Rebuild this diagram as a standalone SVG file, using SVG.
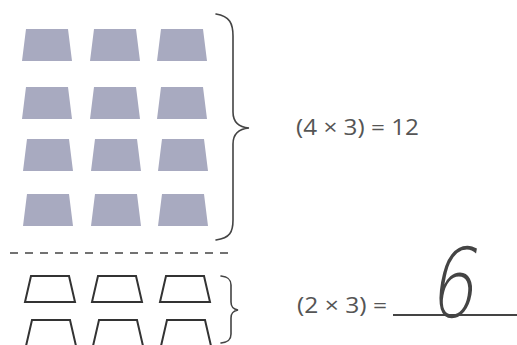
<svg xmlns="http://www.w3.org/2000/svg" width="517" height="345" viewBox="0 0 517 345">
<style>
.f{fill:#a8aac0;stroke:none}
.o{fill:#fff;stroke:#333;stroke-width:2;stroke-linejoin:miter}
.br{fill:none;stroke:#444;stroke-width:1.6;stroke-linecap:round}
.t{font-family:"Open Sans","Noto Sans","Liberation Sans",sans-serif;font-size:21px;fill:#555}
</style>
<rect width="517" height="345" fill="#fff"/>
<defs>
<polygon id="tf" points="4,0 46,0 50,32 0,32"/>
<polygon id="to" points="6,0 44,0 50,26 0,26"/>
</defs>
<g id="filled">
<use href="#tf" class="f" x="22" y="29"/>
<use href="#tf" class="f" x="90" y="29"/>
<use href="#tf" class="f" x="157" y="29"/>
<use href="#tf" class="f" x="22" y="87"/>
<use href="#tf" class="f" x="90" y="87"/>
<use href="#tf" class="f" x="157" y="87"/>
<use href="#tf" class="f" x="23" y="139"/>
<use href="#tf" class="f" x="91" y="139"/>
<use href="#tf" class="f" x="158" y="139"/>
<use href="#tf" class="f" x="23" y="194"/>
<use href="#tf" class="f" x="91" y="194"/>
<use href="#tf" class="f" x="158" y="194"/>
</g>
<g id="outlined">
<use href="#to" class="o" x="25" y="276"/>
<use href="#to" class="o" x="92" y="276"/>
<use href="#to" class="o" x="160" y="276"/>
<use href="#to" class="o" x="26" y="320"/>
<use href="#to" class="o" x="93" y="320"/>
<use href="#to" class="o" x="161" y="320"/>
</g>
<g id="connectors">
<path class="br" d="M216,14 C230,16 233,24 233,36 L233,112 C233,122 238,127 249,128 C238,129 233,134 233,144 L233,220 C233,232 230,238 216,240"/>
<path class="br" d="M221,276 C229,277 231,280 231,285 L231,302 C231,307 233,309 238,310 C233,311 231,313 231,318 L231,334 C231,339 229,342 221,343"/>
<line x1="10" y1="253" x2="234" y2="253" stroke="#444" stroke-width="1.5" stroke-dasharray="8,7"/>
<line x1="393" y1="315" x2="517" y2="315" stroke="#444" stroke-width="2"/>
</g>
<g id="label1"><text class="t" x="296" y="135" textLength="123" lengthAdjust="spacingAndGlyphs">(4 × 3) = 12</text></g>
<g id="label2"><text class="t" x="297" y="313" textLength="90" lengthAdjust="spacingAndGlyphs">(2 × 3) =</text></g>
<g id="answer"><text x="0" y="0" transform="translate(428,317) skewX(-10) scale(0.75,1)" font-family="DejaVu Sans" font-weight="200" font-size="96" fill="#444">6</text></g>
</svg>
